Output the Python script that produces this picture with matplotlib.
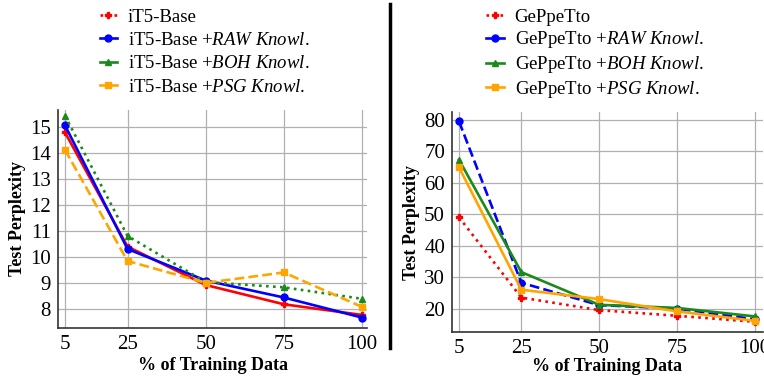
import matplotlib
matplotlib.use("Agg")
import matplotlib.pyplot as plt
from matplotlib.lines import Line2D

plt.rcParams['font.family'] = ['Liberation Serif', 'DejaVu Serif']
plt.rcParams['mathtext.fontset'] = 'custom'
plt.rcParams['mathtext.rm'] = 'Liberation Serif'
plt.rcParams['mathtext.it'] = 'Liberation Serif:italic'
plt.rcParams['mathtext.bf'] = 'Liberation Serif:bold'

x_vals = [5, 25, 50, 75, 100]
x_ticklabels = ["5", "25", "50", "75", "100"]

# Left panel: iT5-Base
it5_base = [14.78, 10.40, 8.93, 8.19, 7.78]
it5_raw = [15.05, 10.31, 9.10, 8.45, 7.68]
it5_boh = [15.42, 10.81, 9.04, 8.84, 8.40]
it5_psg = [14.11, 9.85, 9.01, 9.41, 8.09]

# Right panel: GePpeTto
gep_base = [49.0, 23.5, 19.5, 17.7, 15.8]
gep_raw = [79.5, 28.2, 21.1, 20.0, 16.6]
gep_boh = [67.3, 31.6, 21.2, 20.2, 17.5]
gep_psg = [64.9, 26.0, 23.0, 19.1, 16.1]

left_names = ["iT5-Base", "iT5-Base +$\\it{RAW\\ Knowl.}$",
              "iT5-Base +$\\it{BOH\\ Knowl.}$", "iT5-Base +$\\it{PSG\\ Knowl.}$"]
right_names = ["GePpeTto", "GePpeTto +$\\it{RAW\\ Knowl.}$",
               "GePpeTto +$\\it{BOH\\ Knowl.}$", "GePpeTto +$\\it{PSG\\ Knowl.}$"]

RED, BLUE, GREEN, ORANGE = "#ff0000", "#0000ff", "#1a8a1a", "#ffa500"
markers = ["P", "o", "^", "s"]
colors = [RED, BLUE, GREEN, ORANGE]

fig = plt.figure(figsize=(7.64, 3.76), dpi=100)
W, H = 764, 376

def add_ax(x0, x1, y0, y1):
    return fig.add_axes([x0 / W, 1 - y1 / H, (x1 - x0) / W, (y1 - y0) / H])

axL = add_ax(58, 367, 110, 328)
axR = add_ax(452, 763, 112, 332)

mk = dict(markersize=5, linewidth=1.9)

axL.plot(x_vals, it5_base, color=RED, linestyle='-', marker='P', **mk)
axL.plot(x_vals, it5_raw, color=BLUE, linestyle='-', marker='o', **mk)
axL.plot(x_vals, it5_boh, color=GREEN, linestyle=':', marker='^', **mk)
axL.plot(x_vals, it5_psg, color=ORANGE, linestyle='--', marker='s', **mk)

axR.plot(x_vals, gep_base, color=RED, linestyle=':', marker='P', **mk)
axR.plot(x_vals, gep_raw, color=BLUE, linestyle='--', marker='o', **mk)
axR.plot(x_vals, gep_boh, color=GREEN, linestyle='-', marker='^', **mk)
axR.plot(x_vals, gep_psg, color=ORANGE, linestyle='-', marker='s', **mk)

axL.set_xlim(2.76, 101.6)
axL.set_ylim(7.28, 15.64)
axL.set_yticks([8, 9, 10, 11, 12, 13, 14, 15])
axR.set_xlim(2.74, 102.6)
axR.set_ylim(12.55, 82.5)
axR.set_yticks([20, 30, 40, 50, 60, 70, 80])

for ax, lp in ((axL, 2), (axR, 0)):
    ax.set_xticks(x_vals)
    ax.set_xticklabels(x_ticklabels)
    ax.grid(True, color="#b0b0b0", linewidth=0.9)
    ax.set_axisbelow(True)
    for s in ("top", "right"):
        ax.spines[s].set_visible(False)
    for s in ("left", "bottom"):
        ax.spines[s].set_color("#333333")
        ax.spines[s].set_linewidth(1.2)
    ax.tick_params(axis='both', length=0, labelsize=15, pad=5)
    ax.set_xlabel("% of Training Data", fontsize=13, fontweight='bold', labelpad=lp)
    ax.set_ylabel("Test Perplexity", fontsize=13, fontweight='bold', labelpad=3)

handle_styles = [':', '-', '-', '-']
def handles():
    return [Line2D([], [], color=c, linestyle=ls, marker=m, markersize=5, linewidth=1.9)
            for c, ls, m in zip(colors, handle_styles, markers)]

leg_kw = dict(loc='upper left', frameon=False, fontsize=13.5, handlelength=0.95,
              handletextpad=0.55, borderaxespad=0)
fig.legend(handles(), left_names, bbox_to_anchor=(92 / W, 1 - 1 / H),
           labelspacing=0.33, **leg_kw)
fig.legend(handles(), right_names, bbox_to_anchor=(479 / W, 1 - 1 / H),
           labelspacing=0.2, **leg_kw)

fig.add_artist(Line2D([389.5 / W, 389.5 / W], [1 - 4 / H, 1 - 348 / H],
                      color='black', linewidth=2.5, transform=fig.transFigure))

fig.savefig("out.png", dpi=100)
